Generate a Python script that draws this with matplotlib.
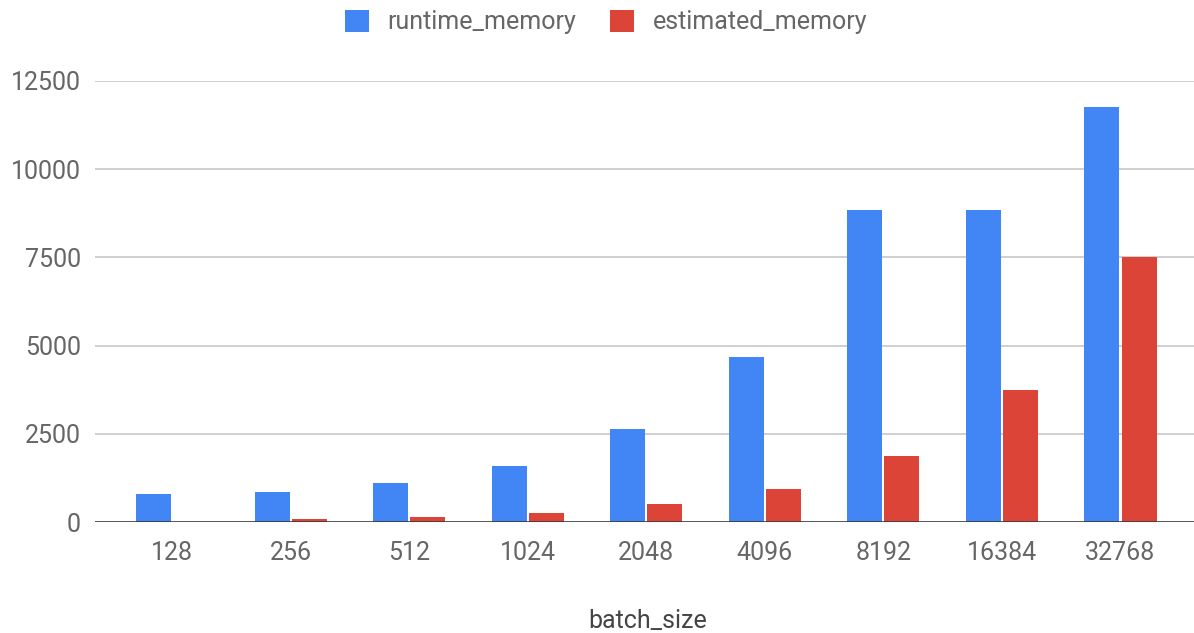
import matplotlib
matplotlib.use("Agg")
import matplotlib.pyplot as plt
import numpy as np
from matplotlib.patches import Patch

plt.rcParams['font.family'] = ['Roboto', 'DejaVu Sans']

batch_sizes = ["128", "256", "512", "1024", "2048", "4096", "8192", "16384", "32768"]
runtime_memory = [790, 860, 1100, 1580, 2650, 4690, 8830, 8830, 11770]
estimated_memory = [0, 95, 140, 255, 500, 925, 1880, 3740, 7500]
y_ticks = [0, 2500, 5000, 7500, 10000, 12500]

blue = "#4285F4"
red = "#DB4437"
text_gray = "#666666"

W, H = 1194, 633
fig = plt.figure(figsize=(W / 100, H / 100), dpi=100)
ax = fig.add_axes([95 / W, 111 / H, 1099 / W, 441 / H])

x = np.arange(len(batch_sizes))
w = 0.295
gap = 0.009
ax.bar(x - w / 2 - gap, runtime_memory, width=w, color=blue, zorder=3)
ax.bar(x + w / 2 + gap, estimated_memory, width=w, color=red, zorder=3)

ax.set_xlim(-0.65, 8.62)
ax.set_ylim(0, 12500)
ax.set_yticks(y_ticks)
ax.set_yticklabels([str(t) for t in y_ticks])
ax.set_xticks(x)
ax.set_xticklabels(batch_sizes)

ax.grid(axis='y', color="#cccccc", linewidth=1.3, zorder=0)
ax.axhline(0, color="#333333", linewidth=1.8, zorder=4)
for s in ax.spines.values():
    s.set_visible(False)
ax.tick_params(axis='both', length=0, labelsize=18, labelcolor=text_gray)
ax.tick_params(axis='x', pad=14)
ax.tick_params(axis='y', pad=10)

# x-axis title, placed in figure coordinates below the tick labels
fig.text(648 / W, 1 - 621 / H, "batch_size", fontsize=18, color="#444444",
         ha='center', va='center')

handles = [Patch(facecolor=blue, edgecolor='none', label="runtime_memory"),
           Patch(facecolor=red, edgecolor='none', label="estimated_memory")]
leg = fig.legend(handles=handles, loc='center', bbox_to_anchor=(606 / W, 1 - 22 / H),
                 ncol=2, frameon=False, fontsize=18, handlelength=0.95, handleheight=1.0,
                 handletextpad=0.75, columnspacing=1.35)
for t in leg.get_texts():
    t.set_color(text_gray)

fig.savefig("out.png", dpi=100)
